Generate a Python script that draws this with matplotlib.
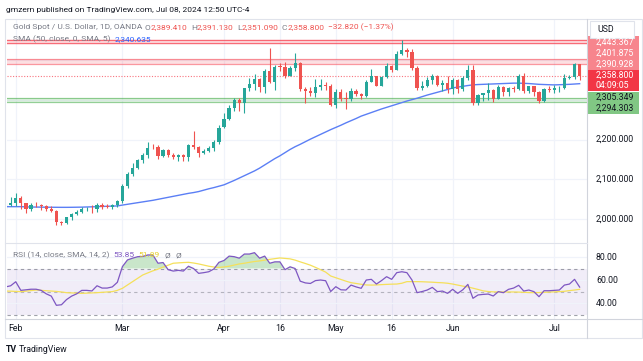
import numpy as np
import pandas as pd
import matplotlib
matplotlib.use("Agg")
import matplotlib.pyplot as plt
from matplotlib.patches import Rectangle
from matplotlib.transforms import blended_transform_factory as blend

# ---- data (daily gold candles, OANDA) -----------------------------------

dates = pd.bdate_range("2024-01-30", "2024-07-08")
dates = dates[dates != pd.Timestamp("2024-03-29")]   # no bar on Good Friday

opens = [2032, 2036, 2039, 2054, 2039, 2024, 2036, 2034, 2033, 2024, 2020, 1993, 1990, 2004, 2013, 2018,
         2024, 2026, 2024, 2035, 2032, 2030, 2035,
         2044, 2083, 2114, 2128, 2148, 2160, 2182, 2182, 2158, 2174, 2162, 2156, 2160, 2157, 2186, 2181,
         2165, 2172, 2178, 2194,
         2231, 2251, 2280, 2300, 2291, 2329, 2339, 2352, 2333, 2372, 2344, 2384, 2383, 2361, 2379, 2392,
         2327, 2322, 2316, 2332, 2338, 2335,
         2286, 2320, 2304, 2301, 2323, 2314, 2309, 2346, 2360, 2336, 2358, 2385, 2376, 2415, 2425, 2421,
         2379, 2329, 2334, 2350, 2361, 2338, 2343,
         2327, 2350, 2327, 2355, 2376, 2293, 2311, 2316, 2325, 2303, 2333, 2319, 2330, 2328, 2360, 2322,
         2334, 2319, 2298, 2328,
         2326, 2329, 2330, 2356, 2357, 2389.41]
highs = [2040, 2055, 2065, 2057, 2041, 2039, 2043, 2038, 2036, 2032, 2022, 1996, 2005, 2016, 2023, 2031,
         2030, 2034, 2041, 2040, 2037, 2038, 2048,
         2088, 2119, 2141, 2152, 2165, 2195, 2189, 2185, 2175, 2176, 2166, 2164, 2163, 2189, 2222, 2183,
         2175, 2184, 2199, 2236,
         2266, 2287, 2305, 2304, 2331, 2354, 2365, 2354, 2378, 2431, 2387, 2392, 2395, 2384, 2417, 2396,
         2333, 2333, 2353, 2353, 2346, 2339,
         2327, 2327, 2319, 2331, 2327, 2318, 2350, 2378, 2361, 2359, 2392, 2388, 2422, 2450, 2431, 2427,
         2385, 2347, 2358, 2364, 2362, 2351, 2360,
         2354, 2353, 2359, 2388, 2387, 2315, 2318, 2342, 2327, 2337, 2335, 2333, 2336, 2365, 2368, 2336,
         2336, 2321, 2331, 2335,
         2338, 2336, 2365, 2363, 2392, 2391.13]
lows = [2026, 2033, 2033, 2025, 2015, 2020, 2030, 2023, 2020, 2017, 1984, 1984, 1988, 1998, 2010, 2016,
        2020, 2016, 2017, 2025, 2027, 2025, 2030,
        2039, 2077, 2109, 2125, 2141, 2154, 2176, 2150, 2156, 2155, 2150, 2146, 2146, 2147, 2176, 2156,
        2163, 2169, 2171, 2190,
        2229, 2248, 2271, 2273, 2267, 2321, 2325, 2319, 2317, 2342, 2324, 2372, 2355, 2359, 2373, 2323,
        2291, 2310, 2308, 2326, 2325, 2285,
        2280, 2298, 2277, 2298, 2310, 2303, 2306, 2344, 2334, 2335, 2354, 2371, 2374, 2412, 2408, 2374,
        2326, 2325, 2333, 2341, 2334, 2323, 2318,
        2314, 2316, 2323, 2350, 2286, 2287, 2298, 2299, 2295, 2301, 2309, 2310, 2320, 2325, 2316, 2318,
        2309, 2293, 2294, 2319,
        2318, 2319, 2327, 2352, 2353, 2351.09]
closes = [2037, 2039, 2054, 2039, 2024, 2035, 2034, 2033, 2024, 2020, 1992, 1990, 2004, 2013, 2018, 2024,
          2026, 2024, 2035, 2031, 2030, 2035, 2044,
          2083, 2114, 2128, 2148, 2160, 2179, 2180, 2158, 2174, 2162, 2155, 2160, 2157, 2186, 2181, 2165,
          2172, 2178, 2194, 2230,
          2251, 2280, 2300, 2291, 2329, 2339, 2352, 2333, 2372, 2344, 2383, 2383, 2361, 2379, 2392, 2327,
          2322, 2316, 2332, 2337, 2335, 2286,
          2320, 2303, 2301, 2323, 2314, 2309, 2346, 2360, 2336, 2358, 2385, 2376, 2415, 2425, 2421, 2379,
          2329, 2334, 2350, 2361, 2338, 2343, 2327,
          2350, 2327, 2355, 2376, 2293, 2311, 2316, 2325, 2303, 2333, 2319, 2329, 2328, 2360, 2322, 2334,
          2319, 2298, 2327, 2326,
          2331, 2331, 2356, 2357, 2390, 2358.8]

sma50 = [2031, 2031, 2031, 2031, 2030.5, 2030, 2030, 2029.8, 2029.6, 2029.5, 2029.4, 2029.3, 2029.3,
         2029.4, 2029.6, 2029.8, 2030.2, 2030.6, 2031, 2031.5, 2032, 2032.4, 2032.8,
         2035, 2037, 2039, 2041, 2043, 2045, 2047, 2049.5, 2052, 2054.5, 2057, 2059.5, 2062, 2064.5,
         2066.5, 2069,
         2072.5, 2076, 2079, 2082.5, 2086,
         2091.5, 2097, 2103, 2109, 2115, 2121, 2128,
         2136, 2144, 2152, 2159, 2167, 2175, 2182,
         2188, 2194.5, 2201, 2207, 2213,
         2219, 2225, 2230.5, 2236, 2242, 2247.5, 2253, 2259,
         2263.5, 2268, 2272.5, 2277, 2281, 2285,
         2289, 2293, 2297, 2300.5, 2304,
         2308, 2312, 2315.5, 2319, 2322.5, 2326, 2330,
         2332, 2334, 2336, 2337.7,
         2338.5, 2339, 2339.5, 2340,
         2340.5, 2341, 2341.5, 2342, 2342,
         2341.5, 2341, 2340, 2339,
         2338.5, 2338, 2337.6,
         2338, 2338.5, 2339, 2339.8, 2340.635]

rsi = [54, 55, 58.5, 51, 51.5, 52, 52, 51, 48, 46, 38, 38.5, 43, 46, 48, 51, 51, 50.5, 55, 53, 53, 54, 58,
       71.7, 77.5, 79, 80.3, 80.5, 81.8, 81.8, 74.6, 75.2, 69, 67.8, 68.4, 67.8, 72, 70, 65.8, 66.4, 67.2,
       69.6, 75.4,
       77, 80.8, 80.3, 79, 82.6, 82.6, 83.8, 79, 80.8, 74.6, 75.8, 75.8, 69, 71.5, 70,
       59, 57.5, 57, 59.5, 60, 59.4, 50, 54.2, 51.5, 51.3, 55.6, 54, 52.8, 60, 60.6, 56.5, 59.5, 62.9,
       60.6, 66.4, 67.2, 66.4, 60, 49, 50, 51.3, 53.6, 49.9, 50.4, 48.4,
       51.9, 48.4, 51.5, 56.2, 44.1, 47, 47.5, 47.8, 46.1, 49.9, 49, 51.9, 53, 55.4, 50.4, 51.3, 49.9,
       45.5, 50.7, 50.7, 51, 51.3, 55.6, 56.5, 60.6, 53.85]

rsi_ma = [50.4, 50.3, 50.1, 49.9, 50.3, 50.8, 51.3, 51.0, 50.7, 50.4, 50.1, 49.6, 49.0, 48.8, 48.6, 48.4,
          48.6, 48.8, 49.0, 49.3, 49.6, 49.9, 51.0,
          52.8, 55.7, 58.6, 61.5, 64.4, 66.2, 68.0, 69.5, 71.2, 72.9, 74.6, 74.9, 75.2, 75.4, 74.8, 74.0,
          73.0, 72.0, 71.3, 70.9, 71.4, 72.0, 73.0, 74.0, 74.6, 75.4, 76.1, 76.6, 77.3, 78.0, 78.6, 79.2,
          78.8, 78.4, 77.3,
          75.8, 74.4, 72.9, 71.0, 69.0, 66.9, 63.5, 62.0, 60.5, 59.0, 57.7, 57.0, 56.3, 55.7, 55.6, 55.7,
          56.0, 56.2, 56.4, 56.5, 57.2, 58.6, 58.6, 58.6, 58.5, 58.3, 58.1, 57.8, 57.6, 57.2, 56.5, 55.6,
          54.7, 54.0, 52.9, 51.8, 50.6, 50.0, 49.7, 49.6, 49.6, 49.6, 49.6, 49.5, 49.3, 49.1, 49.0, 49.1,
          49.3, 49.5, 49.7, 49.9, 50.2, 50.8, 51.3, 51.9]

# horizontal zones drawn on the chart
red_lines = [2449.6, 2443.367]
red_zone = [2390.928, 2401.875]
green_zone = [2294.303, 2305.349]
last_price = 2358.8

price_ticks = [2000, 2100, 2200]
rsi_ticks = [80, 60, 40]
date_ticks = ["2024-02-01", "2024-03-01", "2024-04-01", "2024-04-16", "2024-05-01",
              "2024-05-16", "2024-06-03", "2024-07-01"]
date_labels = ["Feb", "Mar", "Apr", "16", "May", "16", "Jun", "Jul"]

# ---- figure layout (pixel based) ------------------------------------------

W, H = 643, 361
fig = plt.figure(figsize=(W / 100, H / 100), dpi=100)
plt.rcParams["font.family"] = ["Roboto", "DejaVu Sans"]


def fx(px):
    return px / W


def fy(py):
    return 1 - py / H


UP, DOWN = "#26a69a", "#ef5350"
GRID = "#f0f3fa"
TXT = "#131722"
GRAY = "#787b86"

left, right = 6.7, 587
p_top, p_bot = 20, 243
r_top, r_bot = 243, 319

ax = fig.add_axes([fx(left), fy(p_bot), (right - left) / W, (p_bot - p_top) / H])
ax_r = fig.add_axes([fx(left), fy(r_bot), (right - left) / W, (r_bot - r_top) / H])

x = np.arange(len(dates))
o, h, l, c = map(np.array, (opens, highs, lows, closes))
tick_idx = [dates.get_loc(pd.Timestamp(d)) for d in date_ticks]

for a in (ax, ax_r):
    a.set_xlim(0.22, 114.45)
    for s in a.spines.values():
        s.set_visible(False)
    a.set_xticks([])
    a.set_yticks([])
    for t in tick_idx:
        a.axvline(t, color=GRID, lw=0.9, zorder=0)

ax.set_ylim(1939.5, 2501)
ax_r.set_ylim(26.1, 92.2)

for p in [2000, 2100, 2200, 2300, 2400]:
    ax.axhline(p, color=GRID, lw=0.9, zorder=0)

# zones / levels
ax.axhspan(red_lines[1], red_lines[0], color="#f7525f", alpha=0.12, lw=0, zorder=1)
for p in red_lines:
    ax.axhline(p, color="#f7525f", lw=1.0, alpha=0.85, zorder=1)
ax.axhspan(red_zone[0], red_zone[1], color="#f7525f", alpha=0.18, lw=0, zorder=1)
for p in red_zone:
    ax.axhline(p, color="#f7525f", lw=0.9, alpha=0.6, zorder=1)
ax.axhspan(green_zone[0], green_zone[1], color="#4caf50", alpha=0.15, lw=0, zorder=1)
for p in green_zone:
    ax.axhline(p, color="#4caf50", lw=0.9, alpha=0.6, zorder=1)
ax.axhline(last_price, color="#f7525f", lw=0.8, ls=(0, (1, 1.5)), alpha=0.8, zorder=1)

# candles
cols = np.where(c >= o, UP, DOWN)
ax.vlines(x, l, h, colors=cols, lw=0.8, zorder=3)
body = np.maximum(np.abs(c - o), 1.0)
ax.bar(x, body, bottom=np.minimum(o, c), width=0.64, color=cols, lw=0, zorder=4)

ax.plot(x, sma50, color="#5b7ff5", lw=1.0, zorder=2)

# RSI pane
rsi = np.array(rsi)
ax_r.axhspan(30, 70, color="#7e57c2", alpha=0.1, lw=0, zorder=0)
for lvl, al in [(70, 0.7), (50, 0.5), (30, 0.7)]:
    ax_r.axhline(lvl, color=GRAY, lw=0.8, ls=(0, (3, 3)), alpha=al, zorder=1)
for lvl in rsi_ticks:
    ax_r.axhline(lvl, color=GRID, lw=0.9, zorder=0)
ax_r.fill_between(x, rsi, 70, where=rsi >= 70, interpolate=True, color="#4caf50", alpha=0.3, lw=0,
                  zorder=1)
ax_r.plot(x, rsi_ma, color="#f5e05a", lw=0.9, zorder=2)
ax_r.plot(x, rsi, color="#7e57c2", lw=0.9, zorder=3)

# ---- frame, separators ----------------------------------------------------

fig.add_artist(Rectangle((fx(5), fy(338)), (642 - 5) / W, (338 - 19) / H, transform=fig.transFigure,
                         fill=False, ec="#e0e3eb", lw=0.8))
fig.add_artist(plt.Line2D([fx(587), fx(587)], [fy(19), fy(338)], transform=fig.transFigure,
                          color="#d1d4dc", lw=0.8))
fig.add_artist(plt.Line2D([fx(5), fx(642)], [fy(319), fy(319)], transform=fig.transFigure,
                          color="#d1d4dc", lw=0.8))
fig.add_artist(plt.Line2D([fx(5), fx(587)], [fy(243), fy(243)], transform=fig.transFigure,
                          color="#e0e3eb", lw=0.8))

# ---- texts ----------------------------------------------------------------

fs = 6.0     # legend / header
afs = 6.3    # axis labels
renderer = fig.canvas.get_renderer()


def text_row(x0, y, pieces):
    # put the pieces one after the other, gap (in px) after each one
    px = x0
    for s, col, gap in pieces:
        t = fig.text(fx(px), fy(y), s, fontsize=fs, color=col, va="center")
        px = t.get_window_extent(renderer=renderer).x1 + gap


fig.text(fx(6.5), fy(10), "gmzern published on TradingView.com, Jul 08, 2024 12:50 UTC-4", fontsize=fs,
         color=TXT, va="center")

text_row(12.7, 27.5, [("Gold Spot / U.S. Dollar, 1D, OANDA", GRAY, 3), ("O", GRAY, 0.3),
                      ("2,389.410", DOWN, 3), ("H", GRAY, 0.3), ("2,391.130", DOWN, 3),
                      ("L", GRAY, 0.3), ("2,351.090", DOWN, 3), ("C", GRAY, 0.3),
                      ("2,358.800", DOWN, 3.5), ("\u221232.820 (\u22121.37%)", DOWN, 0)])
text_row(12.7, 39.5, [("SMA (50, close, 0, SMA, 5)", GRAY, 4), ("2,340.635", "#2962ff", 0)])
text_row(12.7, 255, [("RSI (14, close, SMA, 14, 2)", GRAY, 4), ("53.85", "#7e57c2", 4),
                     ("51.89", "#e6cf2a", 5), ("\u00d8", GRAY, 5), ("\u00d8", GRAY, 0)])

# price axis
tp = blend(fig.transFigure, ax.transData)
for p in price_ticks:
    fig.text(fx(596), p, f"{p:,.3f}", transform=tp, fontsize=afs, color=TXT, va="center")
tr = blend(fig.transFigure, ax_r.transData)
for v in rsi_ticks:
    fig.text(fx(596), v, f"{v:.2f}", transform=tr, fontsize=afs, color=TXT, va="center")

# price labels on the axis
labels = [(42, "2,443.367", "#f7858d", "white"), (53, "2,401.875", "#f7858d", "white"),
          (64, "2,390.928", "#f7858d", "white"), (75.5, "2,358.800", "#f23645", "white"),
          (85, "04:09:05", "#f23645", "white"), (97.5, "2,305.349", "#81c784", TXT),
          (108.5, "2,294.303", "#81c784", TXT)]
for py, s, bg, fg in labels:
    fig.add_artist(Rectangle((fx(587.5), fy(py + 5.6)), (639 - 587.5) / W, 11.2 / H,
                             transform=fig.transFigure, color=bg, lw=0))
    fig.text(fx(596), fy(py), s, fontsize=afs, color=fg, va="center")

fig.add_artist(Rectangle((fx(590), fy(37.5)), (634 - 590) / W, 16 / H, transform=fig.transFigure,
                         fc="white", ec="#e0e3eb", lw=0.8))
fig.text(fx(597), fy(29.5), "USD", fontsize=afs, color=TXT, va="center")

# time axis
tt = blend(ax.transData, fig.transFigure)
for t, s in zip(tick_idx, date_labels):
    fig.text(t, fy(328.5), s, transform=tt, fontsize=afs, color=TXT, ha="center", va="center")

fig.text(fx(6), fy(349.5), "TV", fontsize=6.3, color=TXT, weight="bold", va="center")
fig.text(fx(19), fy(349.5), "TradingView", fontsize=afs, color=TXT, va="center")

fig.savefig("out.png", dpi=100)
